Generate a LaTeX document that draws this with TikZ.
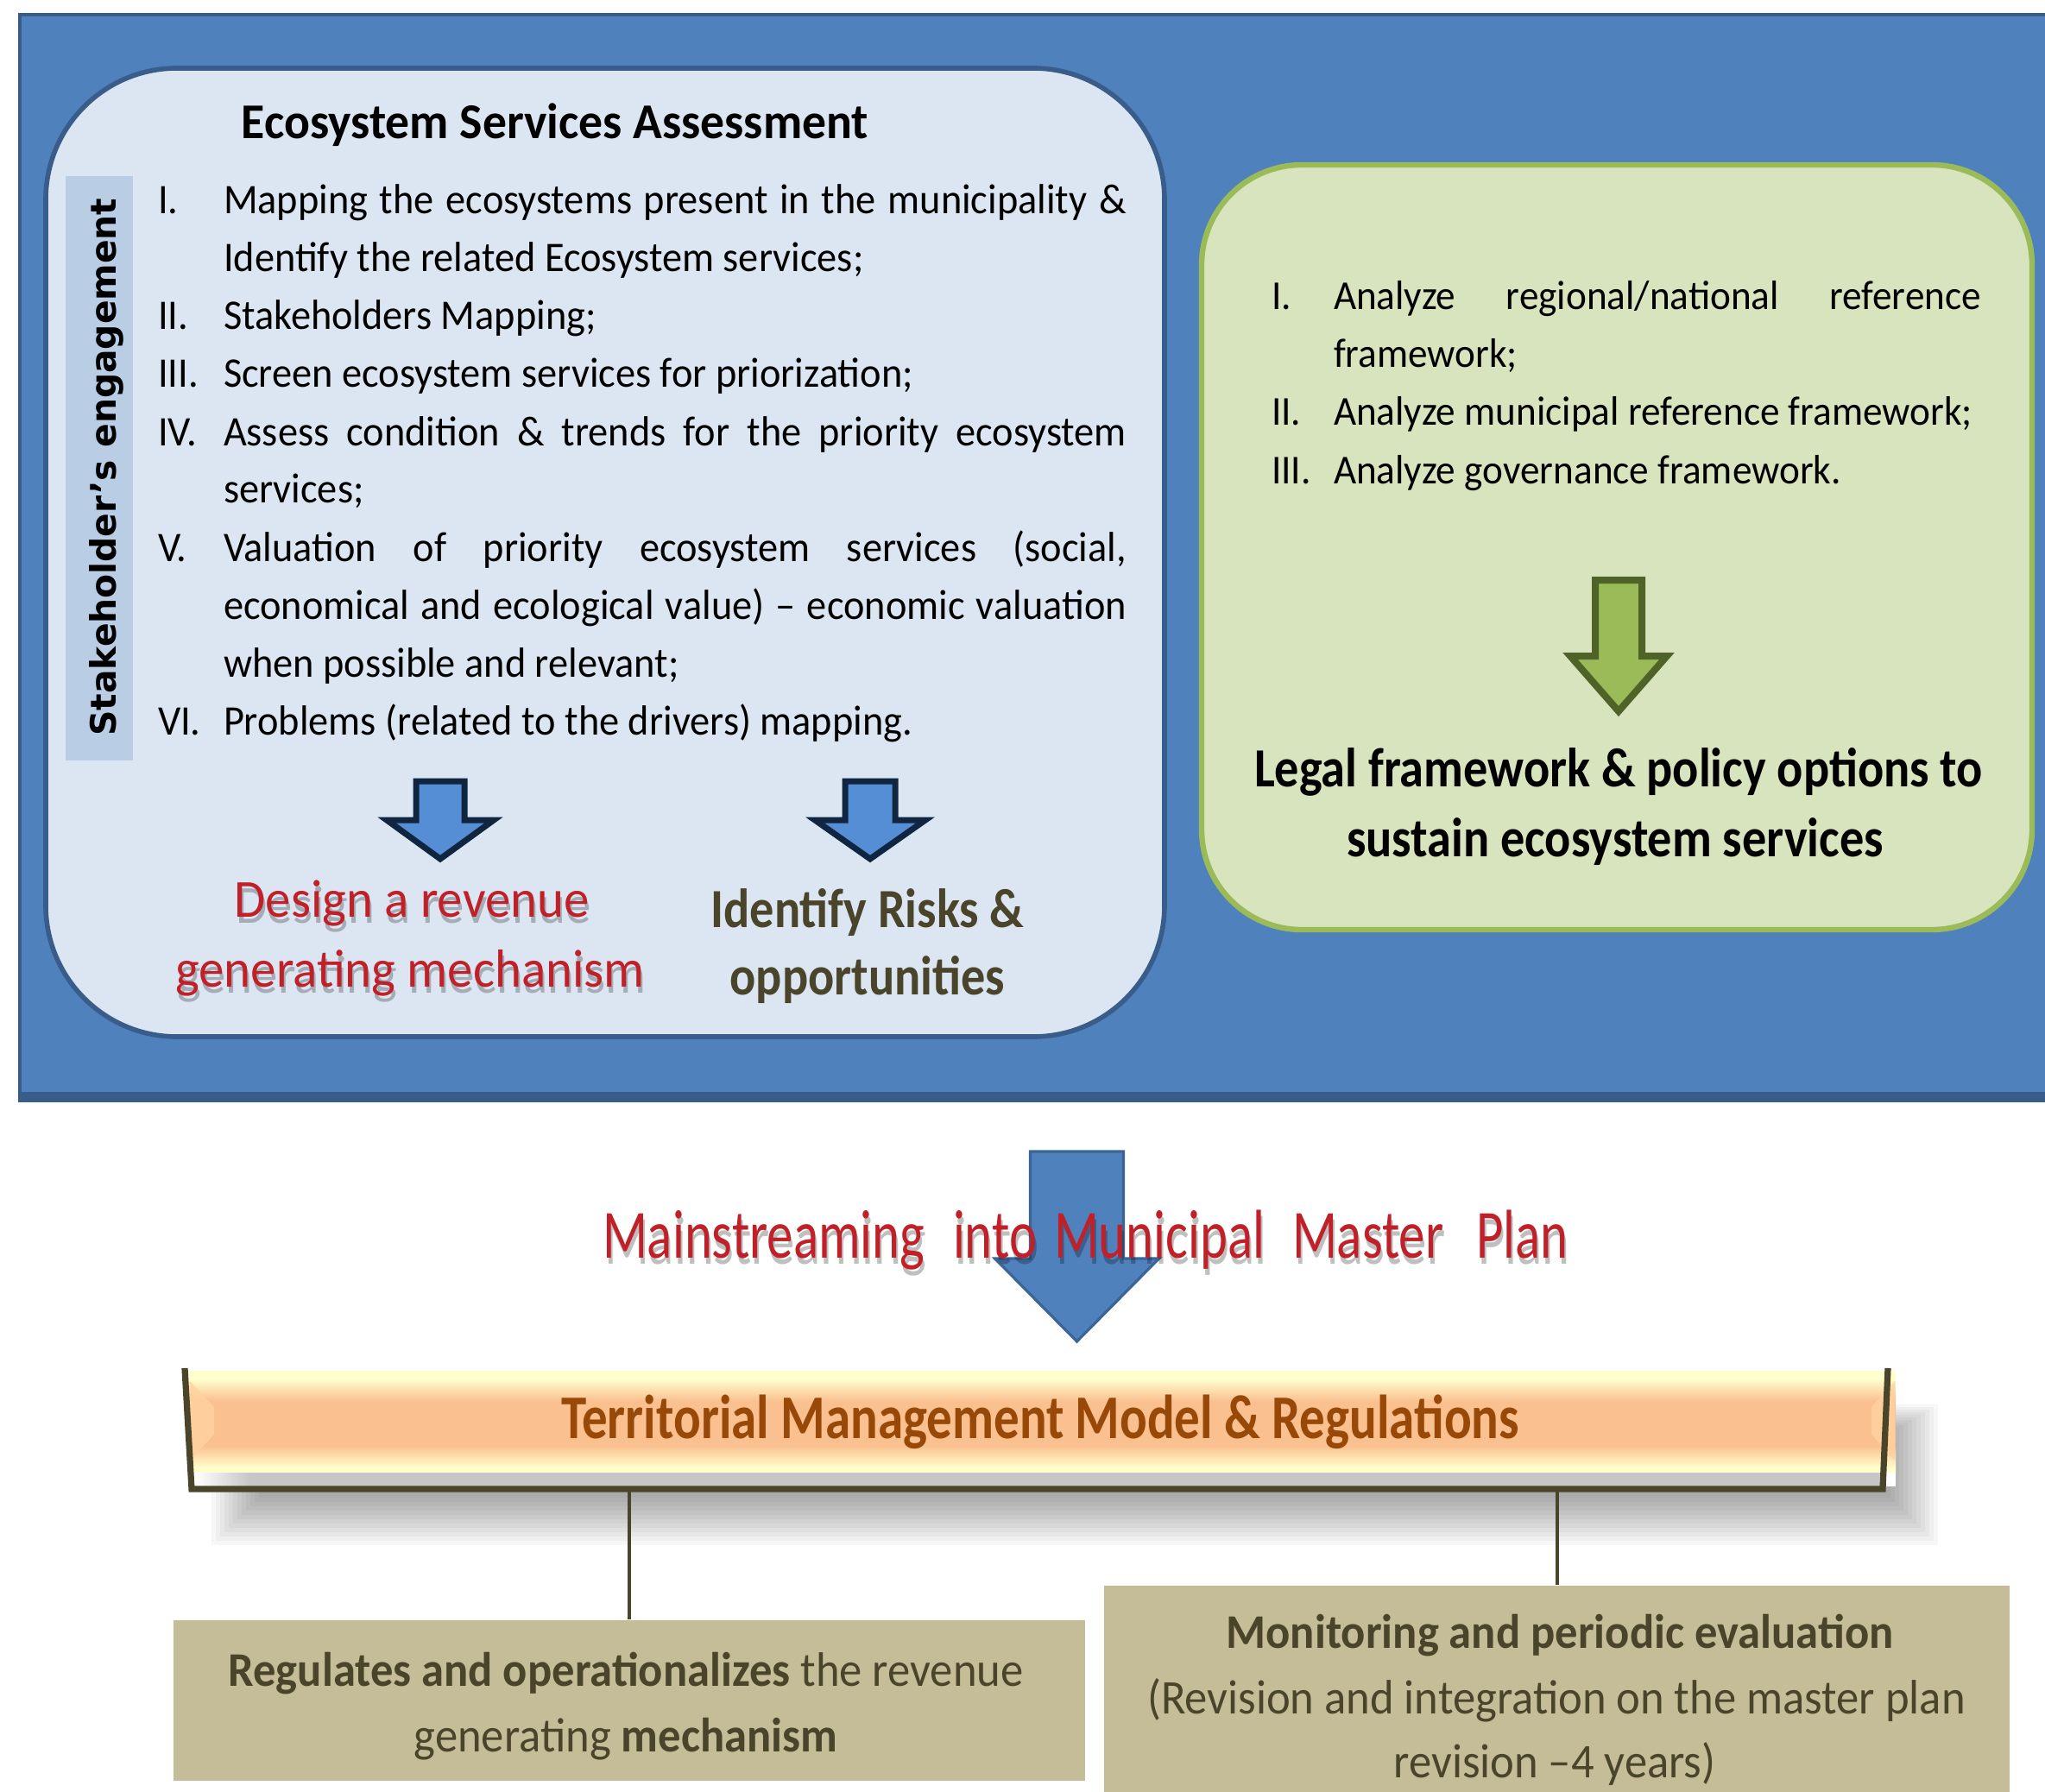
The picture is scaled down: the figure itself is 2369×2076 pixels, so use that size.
\documentclass[tikz,border=0pt]{standalone}
\usepackage{fontspec}
\setmainfont{Carlito}
\newfontfamily\dejavu{DejaVu Sans}
\newfontfamily\cfA[FakeStretch=0.95]{Carlito}
\newfontfamily\cfB[FakeStretch=0.94]{Carlito}
\newfontfamily\cfC[FakeStretch=0.88]{Carlito}
\newfontfamily\cfD[FakeStretch=0.95]{Carlito}
\newfontfamily\cfE[FakeStretch=0.76]{Carlito}
\newfontfamily\cfF[FakeStretch=0.82]{Carlito}
\newfontfamily\cfG[FakeStretch=0.96]{Carlito}
\definecolor{panelblue}{RGB}{79,129,189}
\definecolor{paneledge}{RGB}{56,93,138}
\definecolor{essfill}{RGB}{220,230,242}
\definecolor{stripfill}{RGB}{185,205,229}
\definecolor{legalfill}{RGB}{215,228,189}
\definecolor{legaledge}{RGB}{155,187,89}
\definecolor{garrow}{RGB}{155,187,89}
\definecolor{garrowedge}{RGB}{79,98,40}
\definecolor{barrow}{RGB}{85,142,213}
\definecolor{barrowedge}{RGB}{16,37,63}
\definecolor{bigarrowedge}{RGB}{60,100,150}
\definecolor{tanbox}{RGB}{196,189,151}
\definecolor{olivetxt}{RGB}{74,69,42}
\definecolor{redtxt}{RGB}{192,32,40}
\definecolor{tmmtxt}{RGB}{152,72,7}
\definecolor{ribbonyellow}{RGB}{255,255,204}
\definecolor{ribbonorange}{RGB}{250,192,144}
\definecolor{ribbonpeach}{RGB}{255,210,160}
\pgfdeclareverticalshading{ribbonshade}{100bp}{color(0bp)=(ribbonyellow); color(27bp)=(ribbonyellow); color(38bp)=(ribbonorange); color(60bp)=(ribbonorange); color(71bp)=(ribbonyellow); color(100bp)=(ribbonyellow)}
% #1 style, #2 cx, #3 top, #4 shaft half, #5 head y, #6 head half, #7 tip y
\newcommand\darrow[7]{%
  \draw[#1] (#2-#4,#3) -- (#2+#4,#3) -- (#2+#4,#5) -- (#2+#6,#5) -- (#2,#7) -- (#2-#6,#5) -- (#2-#4,#5) -- cycle;}
% #1 name, #2 style, #3 anchor, #4 x, #5 y, #6 text
\newcommand\fancytext[6]{%
  \node[#2, text=black, opacity=0.25, anchor=#3] at (#4+2,#5+7) {#6};
  \node[#2, text=redtxt, anchor=#3] (#1) at (#4,#5) {#6};}
\begin{document}
\begin{tikzpicture}[x=0.25pt,y=-0.25pt,
  txt/.style={inner sep=0pt,outer sep=0pt},
  listA/.style={txt,anchor=base west,font=\cfA\fontsize{12.2}{16.75}\selectfont},
  listG/.style={txt,anchor=base west,font=\cfA\fontsize{11.9}{16.75}\selectfont},
  redA/.style={txt,font=\cfD\fontsize{15.5}{20}\selectfont},
  redB/.style={txt,font=\cfE\fontsize{20}{24}\selectfont},
  risktxt/.style={txt,anchor=base,text=olivetxt,font=\cfC\bfseries\fontsize{16}{20}\selectfont},
  legaltxt/.style={txt,anchor=base,text=black,font=\cfC\bfseries\fontsize{16}{20}\selectfont},
  bottomtxt/.style={txt,anchor=base,text=olivetxt,font=\cfB\fontsize{14}{19}\selectfont},
  connector/.style={draw=olivetxt,line width=1pt},
  bluearrow/.style={fill=barrow,draw=barrowedge,line width=1.75pt,line join=miter},
  greenarrow/.style={fill=garrow,draw=garrowedge,line width=2pt,line join=miter},
  bigarrow/.style={fill=panelblue,draw=bigarrowedge,line width=0.8pt,line join=miter}]
\useasboundingbox (0,0) rectangle (2369,2076);
\clip (0,0) rectangle (2369,2076);
\fill[white] (0,0) rectangle (2369,2076);

% blue panel
\node[draw=paneledge,fill=panelblue,line width=1.2pt,minimum width=594.25pt,minimum height=314.5pt,inner sep=0pt] (panel) at (1211.5,646) {};
\fill[paneledge] (23,1265) rectangle (2400,1276);

% ecosystem services assessment box
\node[draw=paneledge,fill=essfill,line width=1.4pt,rounded corners=38pt,minimum width=324pt,minimum height=280.5pt,inner sep=0pt] (ess) at (701,640) {};
\node[fill=stripfill,minimum width=19.5pt,minimum height=169.25pt,inner sep=0pt] (strip) at (115,542.5) {};
\node[txt,rotate=90,anchor=base,font=\dejavu\bfseries\fontsize{10.2}{12}\selectfont] (stake) at (134,541) {Stakeholder’s engagement};
\node[txt,anchor=base,font=\cfG\bfseries\fontsize{14.5}{17}\selectfont] (title) at (643,161) {Ecosystem Services Assessment};

\node[listA] (n1) at (183,248) {I.};
\node[listA] (l1) at (259,248) {\makebox[261.5pt][s]{Mapping the ecosystems present in the municipality \&}};
\node[listA] (l2) at (259,315) {Identify the related Ecosystem services;};
\node[listA] (n2) at (183,382) {II.};
\node[listA] (l3) at (259,382) {Stakeholders Mapping;};
\node[listA] (n3) at (183,449) {III.};
\node[listA] (l4) at (259,449) {Screen ecosystem services for priorization;};
\node[listA] (n4) at (183,516) {IV.};
\node[listA] (l5) at (259,516) {\makebox[261.5pt][s]{Assess condition \& trends for the priority ecosystem}};
\node[listA] (l6) at (259,583) {services;};
\node[listA] (n5) at (183,650) {V.};
\node[listA] (l7) at (259,650) {\makebox[261.5pt][s]{Valuation of priority ecosystem services (social,}};
\node[listA] (l8) at (259,717) {\makebox[261.5pt][s]{economical and ecological value) – economic valuation}};
\node[listA] (l9) at (259,784) {when possible and relevant;};
\node[listA] (n6) at (183,851) {VI.};
\node[listA] (l10) at (259,851) {Problems (related to the drivers) mapping.};

\darrow{bluearrow}{510}{905}{28}{950}{62}{995}
\darrow{bluearrow}{1008}{905}{29}{950}{64}{995}

\fancytext{design1}{redA}{base}{477}{1062}{Design a revenue}
\fancytext{design2}{redA}{base}{475}{1143}{generating mechanism}
\node[risktxt] (risk1) at (1005,1074) {Identify Risks \&};
\node[risktxt] (risk2) at (1005,1152) {opportunities};

% legal framework box
\node[draw=legaledge,fill=legalfill,line width=1.6pt,rounded corners=29pt,minimum width=240.5pt,minimum height=221.5pt,inner sep=0pt] (legal) at (1873,634) {};
\node[listG] (gn1) at (1473,359) {I.};
\node[listG] (g1) at (1545,359) {\makebox[187.5pt][s]{Analyze regional/national reference}};
\node[listG] (g2) at (1545,426) {framework;};
\node[listG] (gn2) at (1473,493) {II.};
\node[listG] (g3) at (1545,493) {Analyze municipal reference framework;};
\node[listG] (gn3) at (1473,560) {III.};
\node[listG] (g4) at (1545,560) {Analyze governance framework.};
\darrow{greenarrow}{1875}{672}{27}{760}{56}{824}
\node[legaltxt] (legal1) at (1875,911) {Legal framework \& policy options to};
\node[legaltxt] (legal2) at (1871,992) {sustain ecosystem services};

% big arrow and mainstreaming text
\darrow{bigarrow}{1247.5}{1334}{54}{1458}{95}{1554}
\fancytext{w1}{redB}{base west}{698}{1457}{Mainstreaming}
\fancytext{w2}{redB}{base west}{1104}{1457}{into}
\fancytext{w3}{redB}{base west}{1221}{1457}{Municipal}
\fancytext{w4}{redB}{base west}{1497}{1457}{Master}
\fancytext{w5}{redB}{base west}{1710}{1457}{Plan}

% territorial management ribbon
\foreach \i in {0,...,11}{\fill[black,opacity=0.03] (300-5*\i,1660-3*\i) rectangle (2190+5*\i,1735+5*\i);}
\fill[white] (218,1586) rectangle (2196,1722);
\shade[left color=white,right color=gray!45] (226,1703) rectangle (290,1722);
\fill[gray!45] (289,1703) rectangle (2181,1722);
\shade[shading=ribbonshade] (218,1588) rectangle (2196,1705);
\fill[ribbonpeach,opacity=0.8] (220,1600) -- (248,1630) -- (248,1662) -- (220,1692) -- cycle;
\fill[ribbonpeach,opacity=0.8] (2195,1600) -- (2168,1630) -- (2168,1662) -- (2195,1692) -- cycle;
\coordinate (barbottom) at (1202,1725);
\draw[olivetxt,line width=1.8pt,line join=miter] (214,1585) -- (222,1725) -- (barbottom) -- (2181,1725) -- (2187,1585);
\node[txt,anchor=base,text=tmmtxt,font=\cfF\bfseries\fontsize{18}{22}\selectfont] (tmm) at (1205,1666) {Territorial Management Model \& Regulations};

% bottom boxes
\node[fill=tanbox,minimum width=264pt,minimum height=46.5pt,inner sep=0pt] (regbox) at (729,1969.5) {};
\node[fill=tanbox,minimum width=262.25pt,minimum height=64pt,inner sep=0pt] (monbox) at (1803.5,1965) {};
\draw[connector] (regbox.north |- barbottom) -- (regbox.north);
\draw[connector] (monbox.north |- barbottom) -- (monbox.north);
\node[bottomtxt] (reg1) at (725,1953) {{\bfseries Regulates and operationalizes} the revenue};
\node[bottomtxt] (reg2) at (725,2029) {generating {\bfseries mechanism}};
\node[bottomtxt] (mon1) at (1807,1909) {\bfseries Monitoring and periodic evaluation};
\node[bottomtxt] (mon2) at (1803,1985) {(Revision and integration on the master plan};
\node[bottomtxt] (mon3) at (1801,2059) {revision –4 years)};
\end{tikzpicture}
\end{document}
